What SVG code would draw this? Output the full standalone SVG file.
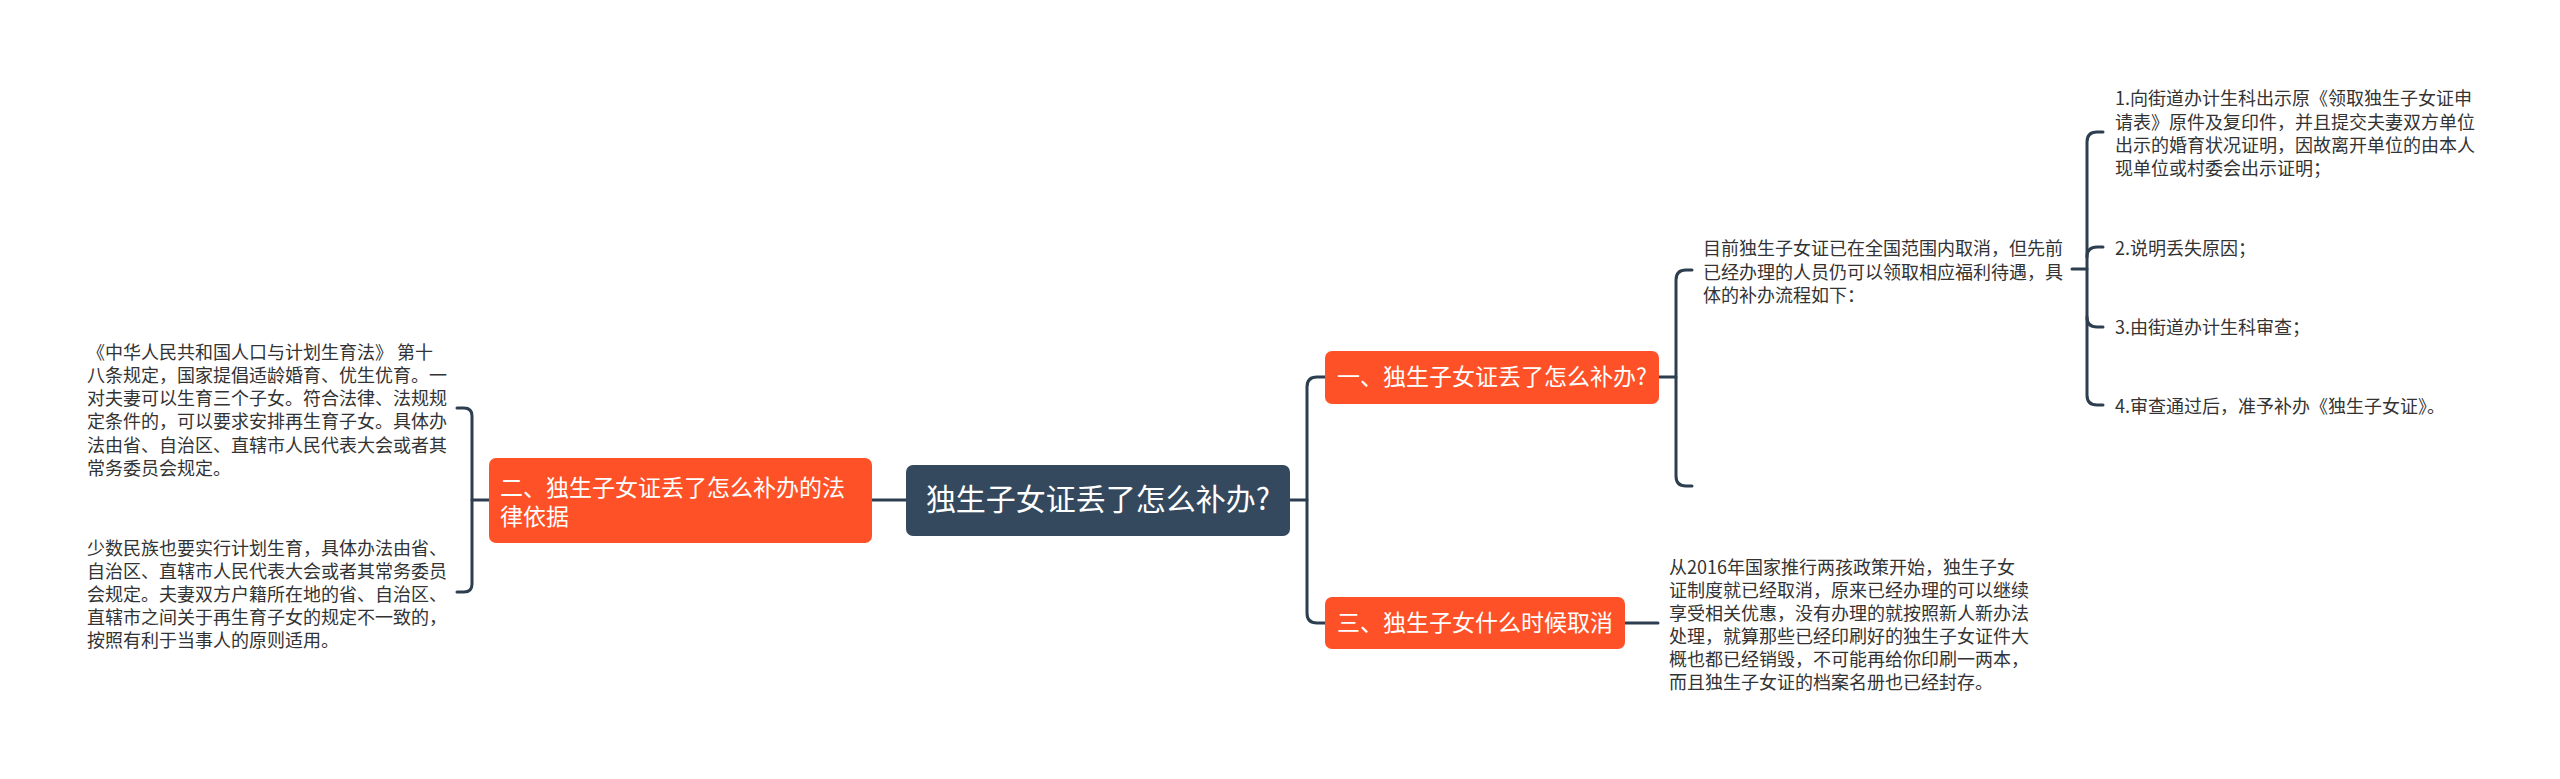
<svg xmlns="http://www.w3.org/2000/svg" width="2560" height="779" viewBox="0 0 2560 779">
<style>
.bg{fill:#ffffff}
.ln{fill:none;stroke:#2c3e50;stroke-width:3;stroke-linecap:round}
.root{fill:#34495e}
.br{fill:#ff5127}
.tw{font-family:"Noto Sans CJK SC","Noto Sans",sans-serif;fill:#ffffff}
.tx{font-family:"Noto Sans CJK SC","Noto Sans",sans-serif;fill:#333333;font-size:18px}
</style>
<rect class="bg" x="0" y="0" width="2560" height="779"/>
<g id="connectors">
<path class="ln" d="M1290,500 H1307"/>
<path class="ln" d="M1325,377 H1317 Q1307,377 1307,387 V613 Q1307,623 1317,623 H1325"/>
<path class="ln" d="M906,500 H872"/>
<path class="ln" d="M489,500 H472"/>
<path class="ln" d="M457,408 H464 Q472,408 472,416 V584 Q472,592 464,592 H457"/>
<path class="ln" d="M1659,377 H1676"/>
<path class="ln" d="M1692,270 H1686 Q1676,270 1676,280 V476 Q1676,486 1686,486 H1692"/>
<path class="ln" d="M1625,623 H1658"/>
<path class="ln" d="M2072,269 H2087"/>
<path class="ln" d="M2103,132 H2097 Q2087,132 2087,142 V395 Q2087,405 2097,405 H2103"/>
<path class="ln" d="M2087,257 Q2087,247 2097,247 H2103"/>
<path class="ln" d="M2087,317 Q2087,327 2097,327 H2103"/>
</g>
<g id="root">
<rect class="root" x="906" y="465" width="384" height="71" rx="7"/>
<text class="tw" x="1098" y="510" font-size="30" text-anchor="middle">独生子女证丢了怎么补办?</text>
</g>
<g id="node1">
<rect class="br" x="1325" y="351" width="334" height="53" rx="7"/>
<text class="tw" x="1337" y="385" font-size="23">一、独生子女证丢了怎么补办?</text>
</g>
<g id="node2">
<rect class="br" x="489" y="458" width="383" height="85" rx="7"/>
<text class="tw" font-size="23"><tspan x="500" y="496">二、独生子女证丢了怎么补办的法</tspan><tspan x="500" y="525">律依据</tspan></text>
</g>
<g id="node3">
<rect class="br" x="1325" y="597" width="300" height="52" rx="7"/>
<text class="tw" x="1337" y="631" font-size="23">三、独生子女什么时候取消</text>
</g>
<g id="law1">
<text class="tx"><tspan x="87" y="359">《中华人民共和国人口与计划生育法》 第十</tspan><tspan x="87" y="382">八条规定，国家提倡适龄婚育、优生优育。一</tspan><tspan x="87" y="405">对夫妻可以生育三个子女。符合法律、法规规</tspan><tspan x="87" y="428">定条件的，可以要求安排再生育子女。具体办</tspan><tspan x="87" y="452">法由省、自治区、直辖市人民代表大会或者其</tspan><tspan x="87" y="475">常务委员会规定。</tspan></text>
</g>
<g id="law2">
<text class="tx"><tspan x="87" y="555">少数民族也要实行计划生育，具体办法由省、</tspan><tspan x="87" y="578">自治区、直辖市人民代表大会或者其常务委员</tspan><tspan x="87" y="601">会规定。夫妻双方户籍所在地的省、自治区、</tspan><tspan x="87" y="624">直辖市之间关于再生育子女的规定不一致的，</tspan><tspan x="87" y="647">按照有利于当事人的原则适用。</tspan></text>
</g>
<g id="intro">
<text class="tx"><tspan x="1703" y="255">目前独生子女证已在全国范围内取消，但先前</tspan><tspan x="1703" y="279">已经办理的人员仍可以领取相应福利待遇，具</tspan><tspan x="1703" y="302">体的补办流程如下：</tspan></text>
</g>
<g id="step1">
<text class="tx"><tspan x="2115" y="105">1.向街道办计生科出示原《领取独生子女证申</tspan><tspan x="2115" y="129">请表》原件及复印件，并且提交夫妻双方单位</tspan><tspan x="2115" y="152">出示的婚育状况证明，因故离开单位的由本人</tspan><tspan x="2115" y="175">现单位或村委会出示证明；</tspan></text>
</g>
<g id="step2"><text class="tx" x="2115" y="255">2.说明丢失原因；</text></g>
<g id="step3"><text class="tx" x="2115" y="334">3.由街道办计生科审查；</text></g>
<g id="step4"><text class="tx" x="2115" y="413">4.审查通过后，准予补办《独生子女证》。</text></g>
<g id="cancel">
<text class="tx"><tspan x="1669" y="574">从2016年国家推行两孩政策开始，独生子女</tspan><tspan x="1669" y="597">证制度就已经取消，原来已经办理的可以继续</tspan><tspan x="1669" y="620">享受相关优惠，没有办理的就按照新人新办法</tspan><tspan x="1669" y="643">处理，就算那些已经印刷好的独生子女证件大</tspan><tspan x="1669" y="666">概也都已经销毁，不可能再给你印刷一两本，</tspan><tspan x="1669" y="689">而且独生子女证的档案名册也已经封存。</tspan></text>
</g>
</svg>
